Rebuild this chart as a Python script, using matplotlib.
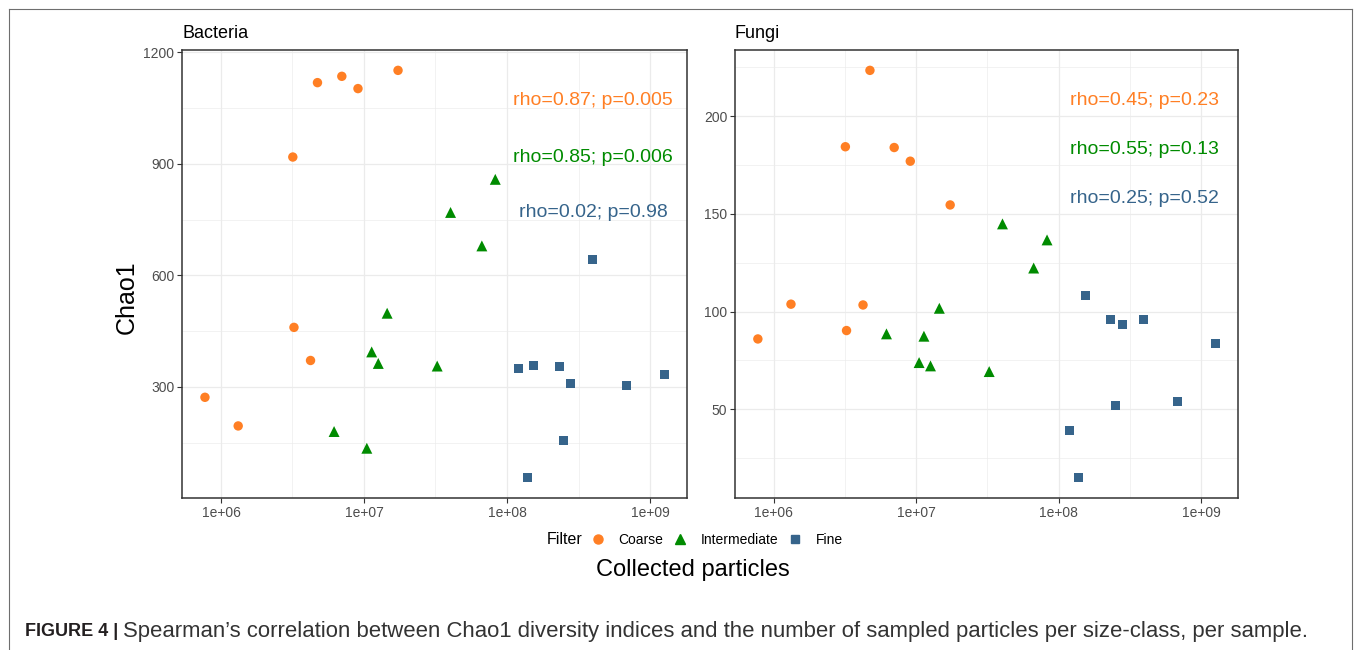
import matplotlib
matplotlib.use('Agg')
import matplotlib.pyplot as plt
import numpy as np
from matplotlib.lines import Line2D
from matplotlib.ticker import NullLocator

plt.rcParams['font.family'] = ['Liberation Sans', 'DejaVu Sans']

# ---------------- data ----------------
filters = ['Coarse', 'Intermediate', 'Fine']
colors = {'Coarse': '#FF7F24', 'Intermediate': '#008B00', 'Fine': '#36648B'}

coarse_particles = [7.73e5, 1.32e6, 3.18e6, 3.24e6, 4.23e6, 4.73e6, 7.00e6, 9.08e6, 1.73e7]
intermediate_particles = [6.18e6, 1.047e7, 1.132e7, 1.259e7, 1.452e7, 3.25e7, 4.03e7, 6.67e7, 8.28e7]
fine_particles = [1.194e8, 1.384e8, 1.535e8, 2.317e8, 2.489e8, 2.786e8, 3.936e8, 6.808e8, 1.253e9]

bacteria_coarse = [272, 195, 918, 460, 371, 1118, 1135, 1102, 1151]
bacteria_intermediate = [180, 135, 394, 363, 498, 356, 769, 679, 858]
bacteria_fine = [350, 56, 358, 355, 157, 310, 643, 303, 333]

fungi_coarse = [86.0, 103.8, 184.4, 90.3, 103.4, 223.5, 184.0, 177.0, 154.6]
fungi_intermediate = [88.6, 73.9, 87.4, 72.2, 101.7, 69.3, 144.9, 122.3, 136.7]
fungi_fine = [38.9, 15.0, 108.2, 95.9, 51.9, 93.2, 95.9, 53.9, 83.6]

panels = ['Bacteria', 'Fungi']
bacteria_labels = ['rho=0.87; p=0.005', 'rho=0.85; p=0.006', 'rho=0.02; p=0.98']
fungi_labels = ['rho=0.45; p=0.23', 'rho=0.55; p=0.13', 'rho=0.25; p=0.52']
label_x = 4.0e8
bacteria_label_y = [1069, 918, 768]
fungi_label_y = [208, 183, 158]

bacteria_yticks = [300, 600, 900, 1200]
fungi_yticks = [50, 100, 150, 200]
x_ticks = [1e6, 1e7, 1e8, 1e9]
x_ticklabels = ['1e+06', '1e+07', '1e+08', '1e+09']

markers = {'Coarse': 'o', 'Intermediate': '^', 'Fine': 's'}
msizes = {'Coarse': 46, 'Intermediate': 62, 'Fine': 42}

particles = {'Coarse': coarse_particles, 'Intermediate': intermediate_particles, 'Fine': fine_particles}
values = {
    'Bacteria': {'Coarse': bacteria_coarse, 'Intermediate': bacteria_intermediate, 'Fine': bacteria_fine},
    'Fungi': {'Coarse': fungi_coarse, 'Intermediate': fungi_intermediate, 'Fine': fungi_fine},
}
labels = {'Bacteria': bacteria_labels, 'Fungi': fungi_labels}
label_ys = {'Bacteria': bacteria_label_y, 'Fungi': fungi_label_y}
yticks = {'Bacteria': bacteria_yticks, 'Fungi': fungi_yticks}

caption_bold = 'FIGURE 4 |'
caption_text = ('Spearman\u2019s correlation between Chao1 diversity indices and the number of '
                'sampled particles per size-class, per sample.')

# ---------------- figure ----------------
W, H = 1358, 650
fig = plt.figure(figsize=(W / 100, H / 100), dpi=100)

def fx(px):
    return px / W

def fy(py):
    return 1 - py / H

axes_boxes = {'Bacteria': (182, 50, 687, 498), 'Fungi': (735, 50, 1238, 498)}

all_x = np.log10(np.concatenate([coarse_particles, intermediate_particles, fine_particles]))
xr = all_x.max() - all_x.min()
xlim = (10 ** (all_x.min() - 0.05 * xr), 10 ** (all_x.max() + 0.05 * xr))

grid_c = '#EBEBEB'
for name in panels:
    l, t, r, b = axes_boxes[name]
    ax = fig.add_axes([fx(l), fy(b), fx(r) - fx(l), fy(t) - fy(b)])
    ax.set_xscale('log')
    allv = np.concatenate([values[name][f] for f in filters])
    yr = allv.max() - allv.min()
    ylim = (allv.min() - 0.05 * yr, allv.max() + 0.05 * yr)
    ax.set_xlim(*xlim)
    ax.set_ylim(*ylim)

    # gridlines (major + minor, ggplot theme_bw style)
    for k in range(5, 10):
        m = 10 ** (k + 0.5)
        if xlim[0] < m < xlim[1]:
            ax.axvline(m, color=grid_c, lw=0.45, zorder=0)
    for xt in x_ticks:
        ax.axvline(xt, color=grid_c, lw=0.9, zorder=0)
    yt = yticks[name]
    step = yt[1] - yt[0]
    ym = np.arange(yt[0] - step / 2, ylim[1], step)
    for v in ym:
        if ylim[0] < v < ylim[1]:
            ax.axhline(v, color=grid_c, lw=0.45, zorder=0)
    for v in yt:
        ax.axhline(v, color=grid_c, lw=0.9, zorder=0)

    for f in filters:
        ax.scatter(particles[f], values[name][f], s=msizes[f], marker=markers[f],
                   color=colors[f], edgecolors='none', zorder=3)

    for txt, yv, f in zip(labels[name], label_ys[name], filters):
        ax.text(label_x, yv, txt, color=colors[f], fontsize=14, ha='center', va='center', zorder=4)

    ax.set_xticks(x_ticks)
    ax.set_xticklabels(x_ticklabels)
    ax.xaxis.set_minor_locator(NullLocator())
    ax.set_yticks(yt)
    ax.set_yticklabels([str(v) for v in yt])
    ax.tick_params(axis='both', which='major', length=3.5, width=0.8, color='#333333',
                   labelcolor='#4D4D4D', labelsize=10, pad=2)
    for sp in ax.spines.values():
        sp.set_color('#333333')
        sp.set_linewidth(1.1)

    fig.text(fx(l), fy(34), name, fontsize=13, ha='left', va='center', color='black')

# axis titles
fig.text(fx(127), fy(297), 'Chao1', fontsize=18, rotation=90, ha='center', va='center')
fig.text(fx(693), fy(570), 'Collected particles', fontsize=17, ha='center', va='center')

# legend
handles = [Line2D([], [], linestyle='none', marker=markers[f], color=colors[f],
                  markersize={'Coarse': 6.5, 'Intermediate': 7.8, 'Fine': 6.3}[f]) for f in filters]
leg = fig.legend(handles, filters, loc='center left', bbox_to_anchor=(fx(591), fy(540)),
                 ncol=3, frameon=False, fontsize=10, handlelength=1.0, handletextpad=0.95,
                 columnspacing=0.75, borderpad=0, borderaxespad=0)
fig.text(fx(582), fy(540), 'Filter', fontsize=11.5, ha='right', va='center')

# caption
cap1 = fig.text(fx(25), fy(632), caption_bold, fontsize=13, fontweight='bold',
                ha='left', va='center', color='#231F20')
fig.canvas.draw()
bb = cap1.get_window_extent()
cap2 = fig.text((bb.x1 + 5) / W, fy(632), caption_text,
                fontsize=14, ha='left', va='center', color='#333333')
fig.canvas.draw()
bb2 = cap2.get_window_extent()
target = 1313 - (bb.x1 + 5)
cap2.set_fontsize(14 * target / bb2.width)

# outer border
bc = '#6E6E6E'
fig.add_artist(Line2D([fx(8.5), fx(8.5)], [0, fy(8.5)], color=bc, lw=0.8, transform=fig.transFigure))
fig.add_artist(Line2D([fx(8.5), fx(1351.5)], [fy(8.5), fy(8.5)], color=bc, lw=0.8, transform=fig.transFigure))
fig.add_artist(Line2D([fx(1351.5), fx(1351.5)], [0, fy(8.5)], color=bc, lw=0.8, transform=fig.transFigure))

fig.savefig('out.png', dpi=100)
